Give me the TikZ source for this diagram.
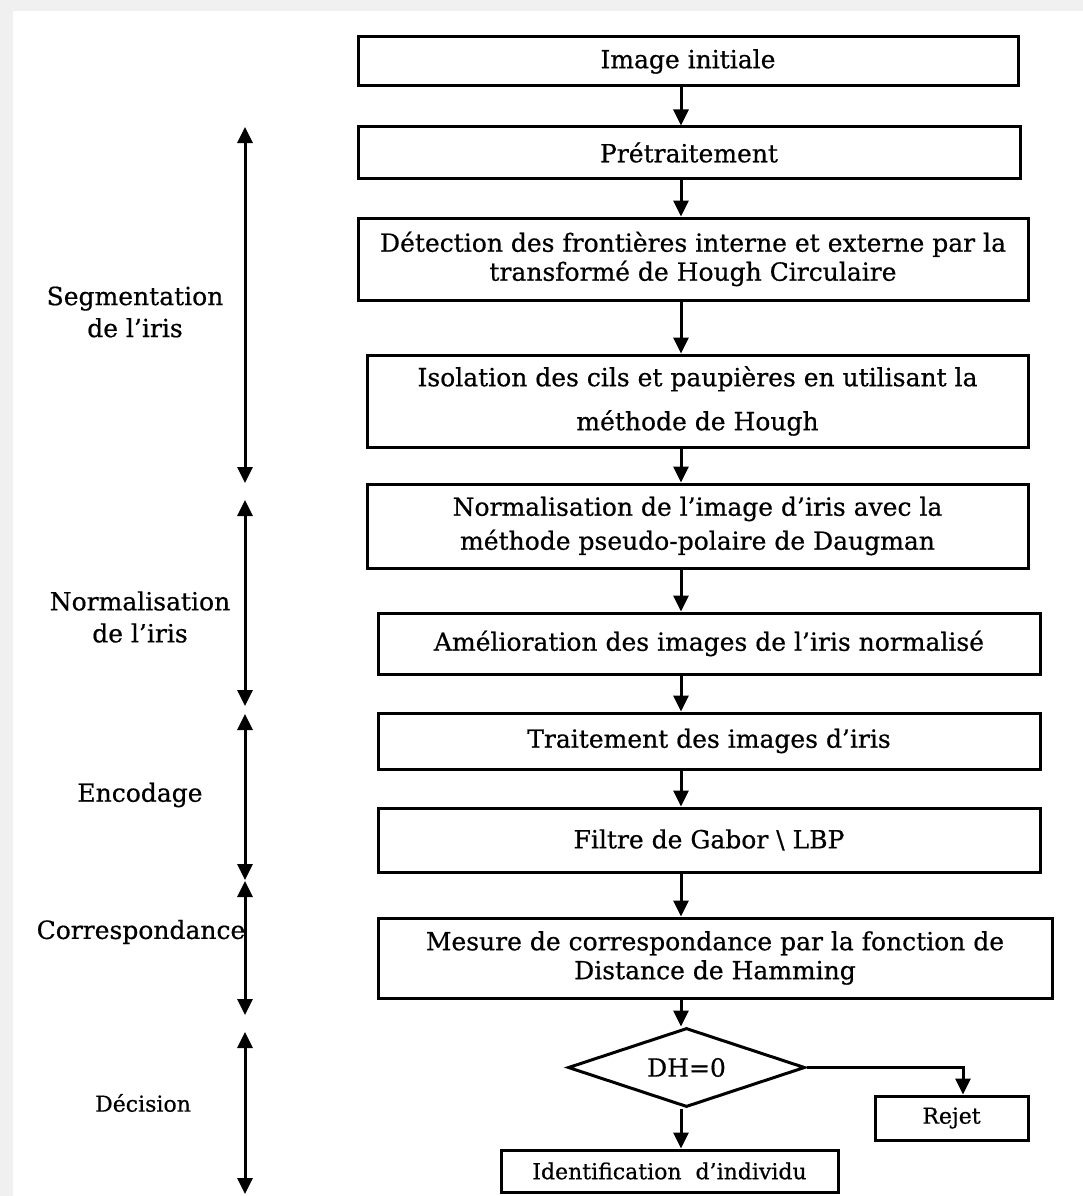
\documentclass[tikz,border=0pt]{standalone}
\usepackage{fontspec}
\setmainfont{DejaVu Serif}[FakeBold=0.6]
\usetikzlibrary{arrows.meta,shapes.geometric}
\begin{document}
\begin{tikzpicture}[x=1pt,y=-1pt,
  stepbox/.style={draw, line width=3pt, inner sep=0pt, align=center,
    font=\fontsize{25}{29}\selectfont},
  flow/.style={line width=3pt, -{Triangle[length=16pt,width=15pt]}},
  span/.style={line width=3pt, {Triangle[length=16pt,width=15pt]}-{Triangle[length=16pt,width=15pt]}},
  phase/.style={align=center, font=\fontsize{25}{32}\selectfont}]
% page and light frame
\useasboundingbox (0,0) rectangle (1083,1196);
\fill[gray!12] (0,0) rectangle (1083,1196);
\fill[white] (13,11) rectangle (1083,1196);

% process boxes
\node[stepbox, minimum width=660pt, minimum height=49pt] (img) at (688,61.5) {Image initiale};
\node[stepbox, minimum width=662pt, minimum height=51pt] (pre) at (689,152.5) {Prétraitement};
\node[stepbox, minimum width=670pt, minimum height=82pt] (det) at (693,259)
  {Détection des frontières interne et externe par la\\transformé de Hough Circulaire};
\node[stepbox, minimum width=661pt, minimum height=92pt, font=\fontsize{25}{44}\selectfont] (iso) at (697.5,401)
  {Isolation des cils et paupières en utilisant la\\méthode de Hough};
\node[stepbox, minimum width=661pt, minimum height=84pt, font=\fontsize{25}{34}\selectfont] (nor) at (697.5,526)
  {Normalisation de l’image d’iris avec la\\méthode pseudo-polaire de Daugman};
\node[stepbox, minimum width=662pt, minimum height=61pt] (ame) at (709,643.5)
  {Amélioration des images de l’iris normalisé};
\node[stepbox, minimum width=662pt, minimum height=56pt] (tra) at (709,741)
  {Traitement des images d’iris};
\node[stepbox, minimum width=662pt, minimum height=64pt] (fil) at (709,840)
  {Filtre de Gabor \textbackslash{} LBP};
\node[stepbox, minimum width=674pt, minimum height=80pt] (mes) at (715,958)
  {Mesure de correspondance par la fonction de\\Distance de Hamming};
\node[stepbox, shape=diamond, aspect=3, minimum width=237pt, minimum height=79pt] (dh) at (686.5,1067.5) {DH=0};
\node[stepbox, minimum width=153pt, minimum height=44pt, font=\fontsize{22}{26}\selectfont] (rej) at (951.5,1118) {Rejet};
\node[stepbox, minimum width=337pt, minimum height=42pt, font=\fontsize{22}{26}\selectfont] (ide) at (669.5,1171)
  {Identification\ \ d’individu};

% main flow
\draw[flow] (img.south -| 681,0) -- (pre.north -| 681,0);
\draw[flow] (pre.south -| 681,0) -- (det.north -| 681,0);
\draw[flow] (det.south -| 681,0) -- (iso.north -| 681,0);
\draw[flow] (iso.south -| 681,0) -- (nor.north -| 681,0);
\draw[flow] (nor.south -| 681,0) -- (ame.north -| 681,0);
\draw[flow] (ame.south -| 681,0) -- (tra.north -| 681,0);
\draw[flow] (tra.south -| 681,0) -- (fil.north -| 681,0);
\draw[flow] (fil.south -| 681,0) -- (mes.north -| 681,0);
\draw[flow] (mes.south -| 681,0) -- (dh.north -| 681,0);
\draw[flow] (dh.south -| 681,0) -- (ide.north -| 681,0);
\draw[flow] (dh.east) -| (rej.north -| 963,0);

% phase spans on the left
\coordinate (s1) at (245,127); \coordinate (s2) at (245,483);
\coordinate (n1) at (245,500); \coordinate (n2) at (245,706);
\coordinate (e1) at (245,714); \coordinate (e2) at (245,880);
\coordinate (c1) at (245,881); \coordinate (c2) at (245,1015);
\coordinate (d1) at (245,1032); \coordinate (d2) at (245,1194);
\draw[span] (s1) -- (s2);
\draw[span] (n1) -- (n2);
\draw[span] (e1) -- (e2);
\draw[span] (c1) -- (c2);
\draw[span] (d1) -- (d2);

\node[phase] (lseg) at (135,312) {Segmentation\\de l’iris};
\node[phase] (lnor) at (140,617) {Normalisation\\de l’iris};
\node[phase] (lenc) at (140,795) {Encodage};
\node[phase] (lcor) at (141,932) {Correspondance};
\node[phase, font=\fontsize{22}{26}\selectfont] (ldec) at (143,1103) {Décision};
\end{tikzpicture}
\end{document}
